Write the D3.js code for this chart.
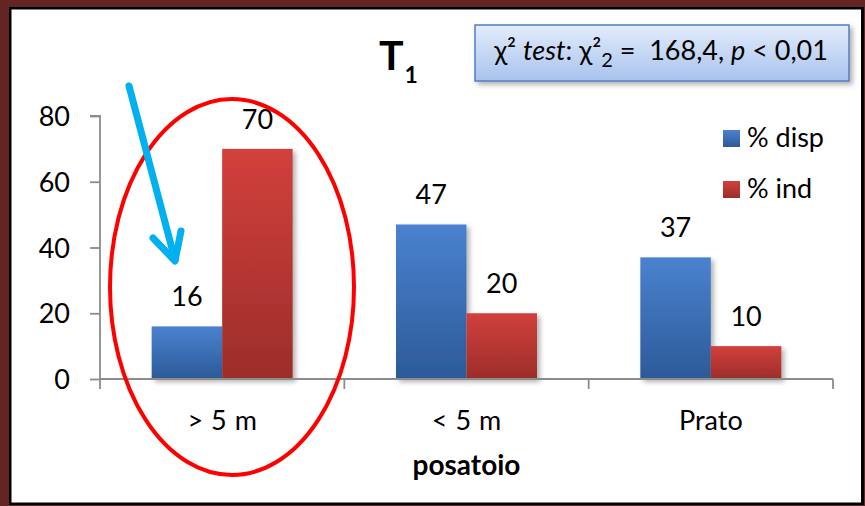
<!DOCTYPE html>
<html>
<head>
<meta charset="utf-8">
<script src="https://cdn.jsdelivr.net/npm/d3@7/dist/d3.min.js"></script>
<style>
  html, body { margin: 0; padding: 0; background: #632523; }
  svg { display: block; }
  text { font-family: Lato, "Open Sans", sans-serif; fill: #000; }
</style>
</head>
<body>
<svg id="chart" width="865" height="506"></svg>
<script>
// Chart data
const categories = ["> 5 m", "< 5 m", "Prato"];
const seriesNames = ["% disp", "% ind"];
const dispValues = [16, 47, 37];
const indValues = [70, 20, 10];
const yTicks = [0, 20, 40, 60, 80];
const xTitle = "posatoio";

const svg = d3.select("#chart");
const W = 865, H = 506;
const FS = 27;

// Frame: maroon outer, thin black line, white plot area
svg.append("rect").attr("x", 0).attr("y", 0).attr("width", W).attr("height", H).attr("fill", "#632523");
svg.append("rect").attr("x", 9).attr("y", 7).attr("width", 855).attr("height", 498).attr("fill", "#000");
svg.append("rect").attr("x", 11.5).attr("y", 9.5).attr("width", 849.5).attr("height", 493).attr("fill", "#fff");

const defs = svg.append("defs");
function vGrad(id, top, bottom) {
  const g = defs.append("linearGradient").attr("id", id).attr("x1", 0).attr("y1", 0).attr("x2", 0).attr("y2", 1);
  g.append("stop").attr("offset", "0%").attr("stop-color", top);
  g.append("stop").attr("offset", "100%").attr("stop-color", bottom);
}
vGrad("gBlue", "#4a82cf", "#2c5a98");
vGrad("gRed", "#d2403c", "#9c2d2a");
vGrad("gBox", "#e3ecfb", "#a8c3ee");
const sh = defs.append("filter").attr("id", "shadow").attr("x", "-20%").attr("y", "-20%").attr("width", "140%").attr("height", "140%");
sh.append("feDropShadow").attr("dx", 3).attr("dy", 3).attr("stdDeviation", 2.5).attr("flood-color", "#000").attr("flood-opacity", 0.3);

// Scales
const plot = { left: 100, right: 833, top: 116, bottom: 379 };
const x = d3.scaleBand().domain(categories).range([plot.left, plot.right]).paddingInner(0).paddingOuter(0);
const y = d3.scaleLinear().domain([0, 80]).range([plot.bottom, plot.top]);
const barW = 70.5;
const sub = d3.scaleBand().domain(seriesNames).range([0, barW * 2]);
const colors = { "% disp": "url(#gBlue)", "% ind": "url(#gRed)" };

const rows = categories.map((c, i) => ({ cat: c, vals: [
  { s: "% disp", v: dispValues[i] },
  { s: "% ind", v: indValues[i] }
]}));

// Bars
const groups = svg.append("g").selectAll("g").data(rows).join("g")
  .attr("transform", d => `translate(${x(d.cat) + x.bandwidth() / 2 - barW},0)`);
groups.selectAll("rect").data(d => d.vals).join("rect")
  .attr("x", d => sub(d.s))
  .attr("y", d => y(d.v))
  .attr("width", sub.bandwidth())
  .attr("height", d => y(0) - y(d.v))
  .attr("fill", d => colors[d.s])
  .attr("filter", "url(#shadow)");
groups.selectAll("text").data(d => d.vals).join("text")
  .attr("x", d => sub(d.s) + sub.bandwidth() / 2)
  .attr("y", d => y(d.v) - 20)
  .attr("text-anchor", "middle")
  .attr("font-size", FS)
  .text(d => d.v);

// Y axis
const yAxis = svg.append("g").attr("transform", `translate(${plot.left},0)`)
  .call(d3.axisLeft(y).tickValues(yTicks).tickSize(10).tickPadding(20).tickFormat(d3.format("d")));
yAxis.selectAll("path,line").attr("stroke", "#8c8c8c").attr("stroke-width", 1.8);
yAxis.selectAll("text").attr("font-size", FS).attr("font-family", "Lato, 'Open Sans', sans-serif").attr("fill", "#000").attr("dy", "0.36em");
yAxis.select(".domain").attr("d", `M-10,${plot.top}H0V${plot.bottom}`);

// X axis with separators between categories
const xAxis = svg.append("g").attr("transform", `translate(0,${plot.bottom})`);
xAxis.append("line").attr("x1", plot.left).attr("x2", plot.right).attr("y1", 0).attr("y2", 0)
  .attr("stroke", "#8c8c8c").attr("stroke-width", 1.8);
const bounds = categories.map(c => x(c)).concat([plot.right]);
xAxis.selectAll("line.sep").data(bounds).join("line").attr("class", "sep")
  .attr("x1", d => d).attr("x2", d => d).attr("y1", 0).attr("y2", 10)
  .attr("stroke", "#8c8c8c").attr("stroke-width", 1.8);
xAxis.selectAll("text").data(categories).join("text")
  .attr("x", d => x(d) + x.bandwidth() / 2)
  .attr("y", 51)
  .attr("text-anchor", "middle")
  .attr("font-size", FS)
  .attr("word-spacing", 1)
  .text(d => d);

svg.append("text").attr("x", x(categories[1]) + x.bandwidth() / 2).attr("y", 475)
  .attr("text-anchor", "middle").attr("font-size", 28).attr("font-weight", "bold").text(xTitle);

// Title
const title = svg.append("text").attr("x", 379).attr("y", 70).attr("font-size", 41).attr("font-weight", "bold");
title.append("tspan").text("T");
title.append("tspan").attr("font-size", 23).attr("dy", 13).attr("dx", 1).text("1");

// Statistics box
svg.append("rect").attr("x", 475).attr("y", 25).attr("width", 374).attr("height", 56)
  .attr("fill", "url(#gBox)").attr("stroke", "#4f7fc0").attr("stroke-width", 1.5).attr("filter", "url(#shadow)");
const stat = svg.append("text").attr("x", 661).attr("y", 60).attr("text-anchor", "middle")
  .attr("font-size", FS).style("white-space", "pre");
stat.append("tspan").text("χ² ");
stat.append("tspan").attr("font-style", "italic").text("test");
stat.append("tspan").text(": χ²");
stat.append("tspan").attr("font-size", 20).attr("dy", 7).text("2");
stat.append("tspan").attr("dy", -7).text(" =  168,4, ");
stat.append("tspan").attr("font-style", "italic").text("p");
stat.append("tspan").text(" < 0,01");

// Legend
const legend = svg.append("g").selectAll("g").data(seriesNames).join("g")
  .attr("transform", (d, i) => `translate(723,${130 + i * 51})`);
legend.append("rect").attr("width", 17).attr("height", 17).attr("fill", d => colors[d]);
legend.append("text").attr("x", 24).attr("y", 17).attr("font-size", FS).text(d => d);

// Highlight: red ellipse around the first group and a pointing arrow
svg.append("ellipse").attr("cx", 232).attr("cy", 287).attr("rx", 122).attr("ry", 188)
  .attr("fill", "none").attr("stroke", "#ff0000").attr("stroke-width", 4);
const arrow = svg.append("g").attr("stroke", "#00b0f0").attr("stroke-width", 7).attr("fill", "none").attr("stroke-linecap", "round");
arrow.append("line").attr("x1", 129).attr("y1", 86).attr("x2", 175).attr("y2", 260);
arrow.append("polyline").attr("points", "153,238 175,261 181,231").attr("stroke-linejoin", "round");
</script>
</body>
</html>
